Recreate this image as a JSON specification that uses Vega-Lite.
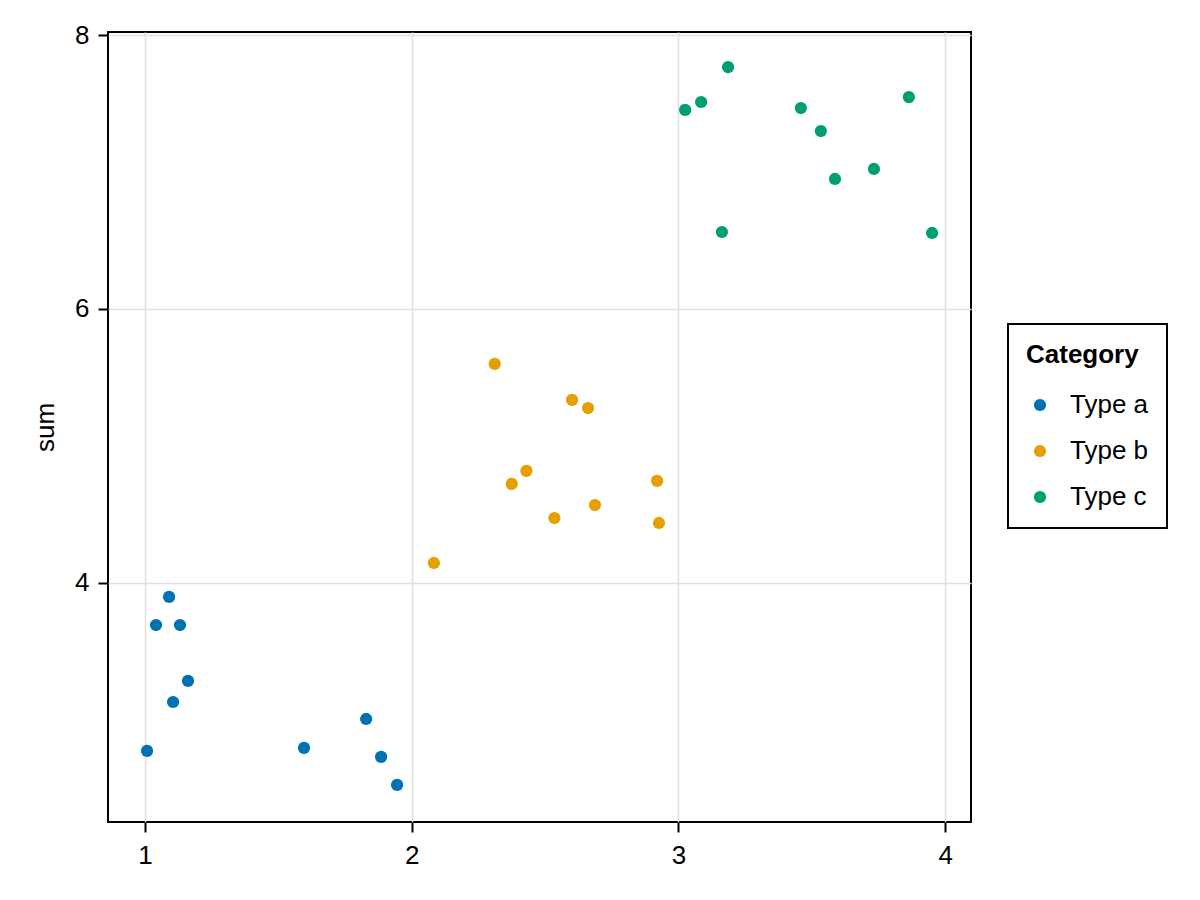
{
  "$schema": "https://vega.github.io/schema/vega-lite/v6.json",
  "autosize": {"type": "none"},
  "width": 863,
  "height": 790,
  "padding": {"left": 108, "top": 32, "right": 229, "bottom": 78},
  "background": "white",
  "config": {
    "font": "Liberation Sans",
    "view": {"stroke": "black", "strokeWidth": 2},
    "legend": {"strokeColor": "black", "strokeWidth": 2},
    "axis": {
      "labelFont": "Liberation Sans",
      "titleFont": "Liberation Sans",
      "titleFontWeight": "normal",
      "labelColor": "black",
      "titleColor": "black",
      "tickColor": "black",
      "tickSize": 10,
      "tickWidth": 2,
      "domain": false,
      "gridColor": "#e0e0e0",
      "gridWidth": 1.5
    }
  },
  "data": {
    "values": [
      {"x": 1.0075, "sum": 2.774, "cat": "Type a"},
      {"x": 1.041, "sum": 3.693, "cat": "Type a"},
      {"x": 1.09, "sum": 3.898, "cat": "Type a"},
      {"x": 1.131, "sum": 3.693, "cat": "Type a"},
      {"x": 1.161, "sum": 3.285, "cat": "Type a"},
      {"x": 1.105, "sum": 3.131, "cat": "Type a"},
      {"x": 1.596, "sum": 2.796, "cat": "Type a"},
      {"x": 1.829, "sum": 3.007, "cat": "Type a"},
      {"x": 1.885, "sum": 2.73, "cat": "Type a"},
      {"x": 1.945, "sum": 2.526, "cat": "Type a"},
      {"x": 2.083, "sum": 4.146, "cat": "Type b"},
      {"x": 2.311, "sum": 5.599, "cat": "Type b"},
      {"x": 2.375, "sum": 4.723, "cat": "Type b"},
      {"x": 2.43, "sum": 4.818, "cat": "Type b"},
      {"x": 2.535, "sum": 4.474, "cat": "Type b"},
      {"x": 2.601, "sum": 5.336, "cat": "Type b"},
      {"x": 2.661, "sum": 5.277, "cat": "Type b"},
      {"x": 2.687, "sum": 4.569, "cat": "Type b"},
      {"x": 2.92, "sum": 4.745, "cat": "Type b"},
      {"x": 2.927, "sum": 4.438, "cat": "Type b"},
      {"x": 3.025, "sum": 7.453, "cat": "Type c"},
      {"x": 3.085, "sum": 7.511, "cat": "Type c"},
      {"x": 3.186, "sum": 7.766, "cat": "Type c"},
      {"x": 3.163, "sum": 6.562, "cat": "Type c"},
      {"x": 3.459, "sum": 7.467, "cat": "Type c"},
      {"x": 3.534, "sum": 7.299, "cat": "Type c"},
      {"x": 3.587, "sum": 6.949, "cat": "Type c"},
      {"x": 3.733, "sum": 7.022, "cat": "Type c"},
      {"x": 3.864, "sum": 7.547, "cat": "Type c"},
      {"x": 3.951, "sum": 6.555, "cat": "Type c"}
    ]
  },
  "mark": {"type": "circle", "size": 150, "opacity": 1},
  "encoding": {
    "x": {
      "field": "x",
      "type": "quantitative",
      "title": null,
      "scale": {"domain": [0.861, 4.097], "nice": false, "zero": false},
      "axis": {"values": [1, 2, 3, 4], "format": "d", "labelPadding": 10, "labelFontSize": 26}
    },
    "y": {
      "field": "sum",
      "type": "quantitative",
      "title": "sum",
      "scale": {"domain": [2.255, 8.022], "nice": false, "zero": false},
      "axis": {"values": [4, 6, 8], "format": "d", "labelPadding": 9, "titlePadding": 16, "labelFontSize": 26, "titleFontSize": 26}
    },
    "color": {
      "field": "cat",
      "type": "nominal",
      "title": "Category",
      "scale": {"domain": ["Type a", "Type b", "Type c"], "range": ["#0072B2", "#E69F00", "#009E73"]},
      "legend": {
        "orient": "none",
        "legendX": 900,
        "legendY": 292,
        "strokeColor": "black",
        "padding": 18,
        "titleFont": "Liberation Sans",
        "titleFontSize": 26,
        "titleFontWeight": "bold",
        "titleColor": "black",
        "titlePadding": 24,
        "labelFont": "Liberation Sans",
        "labelFontSize": 26,
        "labelColor": "black",
        "labelOffset": 17,
        "symbolOffset": 1,
        "symbolType": "circle",
        "symbolSize": 150,
        "symbolOpacity": 1,
        "rowPadding": 20,
        "offset": 0
      }
    }
  }
}
